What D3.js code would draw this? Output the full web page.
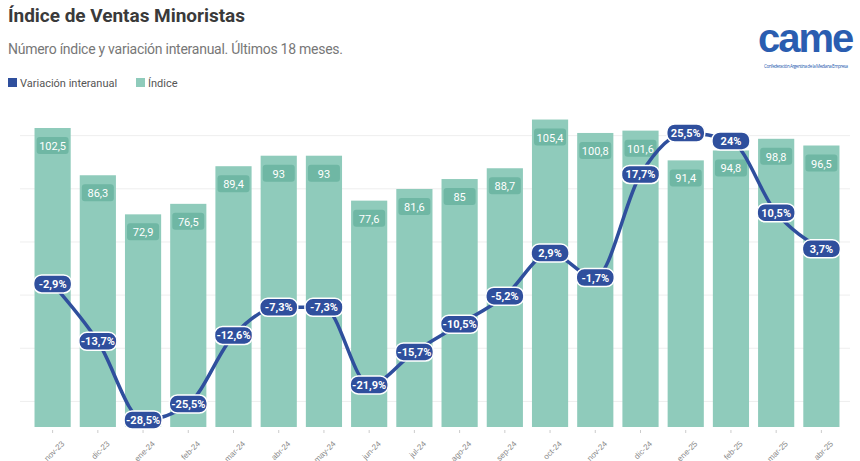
<!DOCTYPE html><html><head><meta charset="utf-8">
<script src="https://cdn.jsdelivr.net/npm/d3@7"></script>
<style>body{margin:0;background:#fff;font-family:"Open Sans",sans-serif}</style></head><body>
<svg id="c" width="860" height="461"></svg>
<script>
const months=["nov-23","dic-23","ene-24","feb-24","mar-24","abr-24","may-24","jun-24","jul-24","ago-24","sep-24","oct-24","nov-24","dic-24","ene-25","feb-25","mar-25","abr-25"];
const indice=[102.5,86.3,72.9,76.5,89.4,93,93,77.6,81.6,85,88.7,105.4,100.8,101.6,91.4,94.8,98.8,96.5];
const variacion=[-2.9,-13.7,-28.5,-25.5,-12.6,-7.3,-7.3,-21.9,-15.7,-10.5,-5.2,2.9,-1.7,17.7,25.5,24,10.5,3.7];
const svg=d3.select("#c");
const teal="#8fcbbb",blue="#2f4f9d";
svg.append("text").attr("x",8).attr("y",22).attr("font-size",19).attr("font-weight",700).attr("fill","#3a3a3a").attr("font-family","Roboto").attr("textLength",237).text("Índice de Ventas Minoristas");
svg.append("text").attr("x",8).attr("y",54).attr("font-size",14).attr("fill","#777").attr("font-family","Roboto").attr("textLength",335).text("Número índice y variación interanual. Últimos 18 meses.");
const lg=svg.append("g").attr("font-size",11).attr("fill","#555").attr("font-family","Roboto");
lg.append("rect").attr("x",8).attr("y",78).attr("width",9).attr("height",9).attr("fill",blue);
lg.append("text").attr("x",20).attr("y",87).text("Variación interanual");
lg.append("rect").attr("x",136).attr("y",78).attr("width",9).attr("height",9).attr("fill",teal);
lg.append("text").attr("x",148).attr("y",87).text("Índice");
// logo
svg.append("text").attr("x",758).attr("y",52).attr("font-size",40).attr("font-weight",700).attr("fill","#2a5db0").attr("font-family","Liberation Sans").attr("letter-spacing",-2).text("came");
svg.append("text").attr("x",764).attr("y",68).attr("font-size",4.5).attr("fill","#2a5db0").attr("textLength",84).text("Confederación Argentina de la Mediana Empresa");
const x=d3.scaleBand().domain(months).range([30,844]).paddingInner(0.2).paddingOuter(0.1);
const y=d3.scaleLinear().domain([0,102.5]).range([427,128]);
const y2=d3.scaleLinear().domain([-28.5,25.5]).range([420,133]);
svg.append("g").selectAll("line").data(d3.range(-25,30,10)).join("line").attr("x1",20).attr("x2",850).attr("y1",d=>y2(d)).attr("y2",d=>y2(d)).attr("stroke","#eee");
svg.append("g").selectAll("rect").data(indice).join("rect").attr("x",(d,i)=>x(months[i])).attr("width",x.bandwidth()).attr("y",d=>y(d)).attr("height",d=>y(0)-y(d)).attr("fill",teal);
const fmt=v=>String(v).replace(".",",");
const bl=svg.append("g").selectAll("g").data(indice).join("g").attr("transform",(d,i)=>`translate(${x(months[i])+x.bandwidth()/2},${y(d)+18})`);
bl.append("rect").attr("x",-16).attr("y",-9).attr("width",32).attr("height",17).attr("rx",3).attr("fill","#6fb7a4");
bl.append("text").attr("text-anchor","middle").attr("y",4).attr("font-size",11).attr("fill","#fff").attr("font-family","Roboto").text(fmt);
const line=d3.line().x((d,i)=>x(months[i])+x.bandwidth()/2).y(d=>y2(d)).curve(d3.curveMonotoneX);
svg.append("path").datum(variacion).attr("d",line).attr("fill","none").attr("stroke",blue).attr("stroke-width",3.5);
const ll=svg.append("g").selectAll("g").data(variacion).join("g").attr("transform",(d,i)=>`translate(${x(months[i])+x.bandwidth()/2},${y2(d)})`);
ll.append("rect").attr("x",-19).attr("y",-9).attr("width",38).attr("height",18).attr("rx",8).attr("fill",blue).attr("stroke","#fff").attr("stroke-width",1.5);
ll.append("text").attr("text-anchor","middle").attr("y",4).attr("font-size",11).attr("font-weight",700).attr("fill","#fff").attr("font-family","Roboto").text(d=>fmt(d)+"%");
const ax=svg.append("g").attr("transform","translate(0,430)").call(d3.axisBottom(x).tickSize(3));
ax.select(".domain").remove();
ax.selectAll("line").attr("stroke","#ccc");
ax.selectAll("text").attr("font-size",8).attr("fill","#888").attr("text-anchor","end").attr("transform","translate(4,6) rotate(-45)");
</script></body></html>
